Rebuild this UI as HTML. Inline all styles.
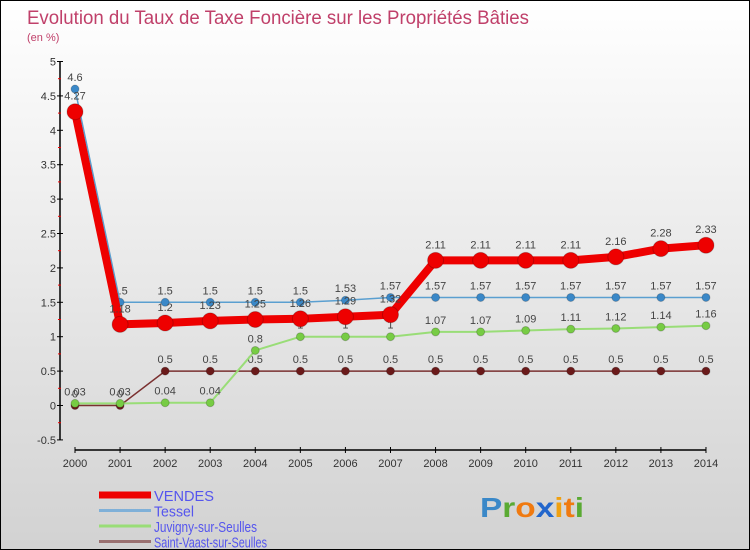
<!DOCTYPE html>
<html><head><meta charset="utf-8"><style>
body{margin:0}
#c{width:748px;height:548px;border:1px solid #000;background:linear-gradient(#fff,#d2d2d2);position:relative;overflow:hidden;font-family:"Liberation Sans",sans-serif}
</style></head><body>
<div id="c">
<svg id="s" width="748" height="548" font-family="Liberation Sans, sans-serif">
<text x="26" y="23" font-size="19" fill="#c0406a" textLength="502" lengthAdjust="spacingAndGlyphs">Evolution du Taux de Taxe Foncière sur les Propriétés Bâties</text>
<text x="26" y="40" font-size="11" fill="#c0406a">(en %)</text>
</svg>
</div>
<script>
const years=["2000","2001","2002","2003","2004","2005","2006","2007","2008","2009","2010","2011","2012","2013","2014"];
const vendes=[4.27,1.18,1.2,1.23,1.25,1.26,1.29,1.32,2.11,2.11,2.11,2.11,2.16,2.28,2.33];
const tessel=[4.6,1.5,1.5,1.5,1.5,1.5,1.53,1.57,1.57,1.57,1.57,1.57,1.57,1.57,1.57];
const juvigny=[0.03,0.03,0.04,0.04,0.8,1,1,1,1.07,1.07,1.09,1.11,1.12,1.14,1.16];
const vaast=[0,0,0.5,0.5,0.5,0.5,0.5,0.5,0.5,0.5,0.5,0.5,0.5,0.5,0.5];
const yTicks=["-0.5","0","0.5","1","1.5","2","2.5","3","3.5","4","4.5","5"];
const legendNames=["VENDES","Tessel","Juvigny-sur-Seulles","Saint-Vaast-sur-Seulles"];
const svg=document.getElementById('s');const NS='http://www.w3.org/2000/svg';
function X(i){return 74+i*45.07;}
function Y(v){return 404.5-v*68.8;}
function mk(t,a,p){const e=document.createElementNS(NS,t);for(const k in a)e.setAttribute(k,a[k]);(p||svg).appendChild(e);return e;}
let ax=mk('line',{x1:59,y1:Y(5),x2:59,y2:Y(-0.5),stroke:'#000','stroke-width':1.5});


yTicks.forEach(t=>{const v=+t;mk('line',{x1:56,x2:62,y1:Y(v),y2:Y(v),stroke:'#000'});
 if(v<5)mk('line',{x1:57,x2:60,y1:Y(v+0.25),y2:Y(v+0.25),stroke:'#e00'});
 const tx=mk('text',{x:55,y:Y(v)+4,'font-size':11,fill:'#333','text-anchor':'end'});tx.textContent=t;
 
 });
let xa=mk('line',{x1:X(0),y1:449,x2:X(14),y2:449,stroke:'#000','stroke-width':1.5});


years.forEach((y,i)=>{mk('line',{x1:X(i),x2:X(i),y1:446,y2:452,stroke:'#000'});
 const tx=mk('text',{x:X(i),y:466,'font-size':11,fill:'#333','text-anchor':'middle'});tx.textContent=y;
 
 });
function series(d,col,dot,w,r,name,lblOff){
 const g=mk('g',{});
 mk('polyline',{points:d.map((v,i)=>X(i)+','+Y(v)).join(' '),fill:'none',stroke:col,'stroke-width':w,'stroke-linejoin':'round'},g);
 d.forEach((v,i)=>{const c=mk('circle',{cx:X(i),cy:Y(v),r:r,fill:dot,stroke:'rgba(0,0,0,0.2)'},g);
  
  
  const t=mk('text',{x:X(i),y:Y(v)-lblOff,'font-size':11,fill:'#444','text-anchor':'middle'},g);t.textContent=String(v);});
}
series(vaast,'#7a3030','#6a1a1a',1.5,4,'series-saint-vaast',8);
series(juvigny,'#99dd77','#77cc44',2,4,'series-juvigny',8);
series(tessel,'#5a9fd0','#3a88c8',1.5,4,'series-tessel',8);
series(vendes,'#ee0000','#ee0000',8,8,'series-vendes',12);
const lc=['#ee0000','#7fb0d8','#99dd77','#997070'],lw=[7,3,3,3],tl=[60,40,103,113];
legendNames.forEach((n,i)=>{const y=494+i*15.5;
 const l=mk('line',{x1:98,x2:150,y1:y,y2:y,stroke:lc[i],'stroke-width':lw[i]});
 
 
 const t=mk('text',{x:153,y:y+6,'font-size':15,fill:'#5555ee',textLength:tl[i],lengthAdjust:'spacingAndGlyphs'});t.textContent=n;
 
 });
const logo=mk('text',{x:479,y:516,'font-size':28,'font-weight':'bold',textLength:104,lengthAdjust:'spacingAndGlyphs'});


[['P','#3a88c8'],['r','#5aaa33'],['o','#f07a10'],['x','#2266cc'],['i','#f0a010'],['t','#f07a10'],['i','#5aaa33']].forEach(([ch,c])=>{mk('tspan',{fill:c},logo).textContent=ch;});
</script>
</body></html>
